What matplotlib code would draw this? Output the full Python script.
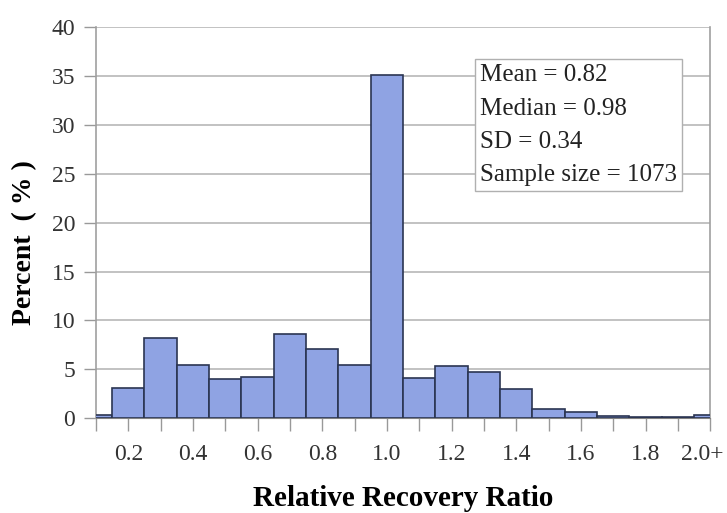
import matplotlib.pyplot as plt
import matplotlib.transforms as mtransforms
import numpy as np

# histogram data (bin centres and percent of samples)
bin_centres = [0.1, 0.2, 0.3, 0.4, 0.5, 0.6, 0.7, 0.8, 0.9, 1.0,
               1.1, 1.2, 1.3, 1.4, 1.5, 1.6, 1.7, 1.8, 1.9, 2.0]
percent = [0.3, 3.1, 8.2, 5.4, 4.0, 4.2, 8.6, 7.1, 5.4, 35.1,
           4.1, 5.3, 4.7, 3.0, 0.9, 0.65, 0.2, 0.1, 0.1, 0.3]
x_ticks = [0.2, 0.4, 0.6, 0.8, 1.0, 1.2, 1.4, 1.6, 1.8, 2.0]
x_ticklabels = ['0.2', '0.4', '0.6', '0.8', '1.0', '1.2', '1.4', '1.6', '1.8', '2.0+']
stats_text = 'Mean = 0.82\nMedian = 0.98\nSD = 0.34\nSample size = 1073'

plt.rcParams['font.family'] = ['Liberation Serif', 'DejaVu Serif']

fig = plt.figure(figsize=(7.27, 5.13), dpi=100)
ax = fig.add_axes([0.132, 0.185, 0.845, 0.762])

ax.bar(bin_centres, percent, width=0.1, color='#8fa3e3', edgecolor='#2b3552',
       linewidth=1.2, zorder=3)

ax.set_xlim(0.1, 2.0)
ax.set_ylim(0, 40)
ax.set_yticks(np.arange(0, 41, 5))
ax.set_xticks(np.round(np.arange(0.1, 2.01, 0.1), 1), minor=True)
ax.set_xticks(x_ticks)
ax.set_xticklabels(x_ticklabels)
ax.tick_params(axis='both', which='major', labelsize=17, colors='#333333',
               length=9, width=1, direction='out', color='#999999')
ax.tick_params(axis='x', which='minor', length=9, width=1, color='#999999')
ax.tick_params(axis='x', which='major', pad=10)
ax.tick_params(axis='y', pad=6)

# "2.0+" sits a little left of its tick so it stays inside the figure
last = ax.get_xticklabels()[-1]
last.set_transform(last.get_transform() +
                   mtransforms.ScaledTranslation(-8 / 100, 0, fig.dpi_scale_trans))

ax.grid(axis='y', color='#b8b8b8', linewidth=1.2, zorder=0)
for side in ['left', 'right']:
    ax.spines[side].set_color('#a0a0a0')
    ax.spines[side].set_linewidth(1.2)
ax.spines['top'].set_visible(False)
ax.spines['bottom'].set_color('#808080')

ax.set_xlabel('Relative Recovery Ratio', fontsize=21, fontweight='bold', labelpad=14)
ax.set_ylabel('Percent  ( % )', fontsize=20, fontweight='bold')
ax.yaxis.set_label_coords(-0.095, 0.45)

ax.text(0.625, 0.905, stats_text, transform=ax.transAxes, fontsize=18,
        va='top', ha='left', linespacing=1.66, color='#222222', zorder=5,
        bbox=dict(boxstyle='square,pad=0.2', facecolor='white',
                  edgecolor='#b0b0b0', linewidth=1))

fig.savefig('out.png', dpi=100)
